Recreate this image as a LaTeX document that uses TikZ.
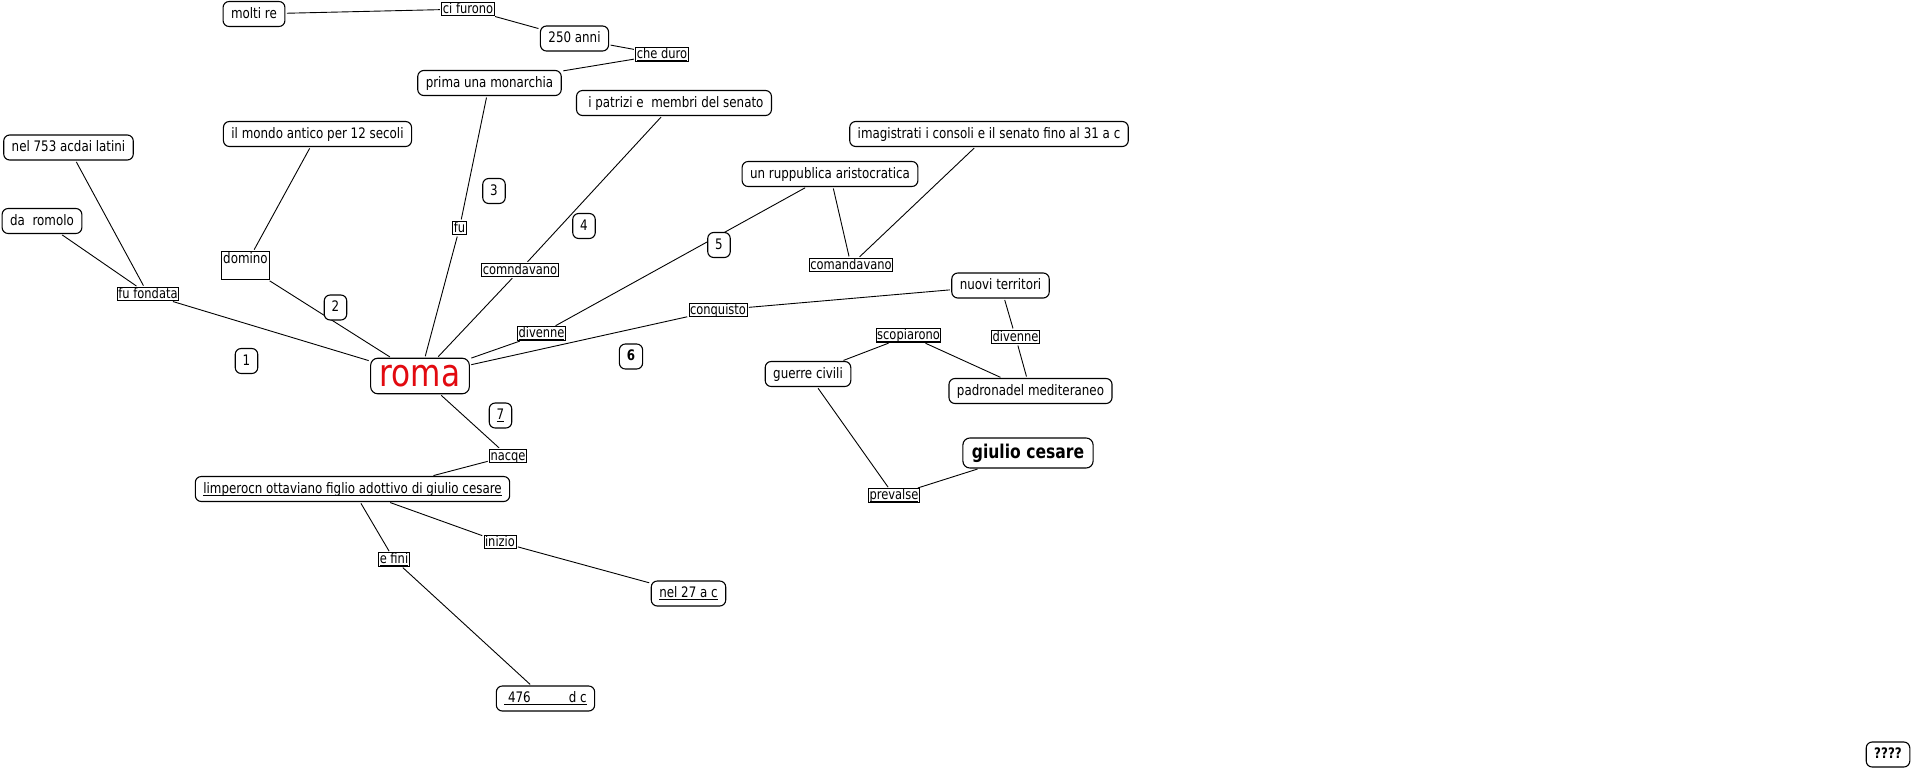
\documentclass[tikz,border=0pt]{standalone}
\usepackage{fontspec}
\setmainfont{DejaVu Sans}[FakeStretch=0.82]
\definecolor{romared}{RGB}{226,10,16}
\newsavebox{\ulbox}
\newcommand{\ulx}[1]{\sbox\ulbox{#1}\rlap{\rule[-2.2pt]{\wd\ulbox}{0.6pt}}\usebox\ulbox}
\begin{document}
\begin{tikzpicture}[x=1pt,y=-1pt,
  basefont/.style={font=\fontsize{14.5}{17}\selectfont},
  concept/.style={basefont, draw, line width=1.1pt, rounded corners=6pt, fill=white,
    inner xsep=8pt, inner ysep=5.5pt, text height=11pt, text depth=3pt},
  numbox/.style={concept, inner xsep=7.5pt},
  linkw/.style={font=\fontsize{14}{16}\selectfont, draw, line width=0.8pt, fill=white,
    inner xsep=1pt, inner ysep=0.2pt, text height=10.5pt, text depth=2.5pt},
  plainbox/.style={basefont, draw, line width=1.1pt, fill=white,
    inner xsep=1.5pt, inner ysep=0.5pt, text height=11pt, text depth=16pt},
  romastyle/.style={draw, line width=1.1pt, rounded corners=7pt, fill=white,
    font=\fontsize{38}{40}\selectfont, text=romared,
    inner xsep=9pt, inner ysep=7pt, text height=21pt, text depth=0.5pt},
  bigbold/.style={draw, line width=1.1pt, rounded corners=7pt, fill=white,
    font=\bfseries\fontsize{19}{22}\selectfont,
    inner xsep=9pt, inner ysep=6pt, text height=14pt, text depth=4pt},
  conn/.style={line width=0.9pt, shorten <=1.5pt, shorten >=1.5pt}
]
\useasboundingbox (0,0) rectangle (1912,769);

% concepts and linking phrases
\node[concept] (moltire) at (254,14) {molti re};
\node[linkw] (cifurono) at (468,9) {\ulx{ci furono}};
\node[concept] (anni) at (574.5,38.5) {250 anni\ };
\node[linkw] (cheduro) at (662,54.5) {\ulx{che duro}};
\node[concept] (prima) at (489.5,83) {prima una monarchia};
\node[concept] (patrizi) at (674,103) {\ i patrizi e\ \ membri del senato};
\node[concept] (mondo) at (317.5,134) {il mondo antico per 12 secoli};
\node[concept] (nel753) at (68.5,147.5) {nel 753 acdai latini};
\node[concept] (romolo) at (42,221) {da\ \ romolo};
\node[plainbox] (domino) at (245.5,265.5) {domino};
\node[linkw] (fondata) at (148,294) {\ulx{fu fondata}};
\node[romastyle] (roma) at (420,376) {roma};
\node[linkw] (fu) at (459.5,228) {\ulx{fu}};
\node[linkw] (comndavano) at (520,270) {\ulx{comndavano}};
\node[concept] (ruppublica) at (830,174) {un ruppublica aristocratica};
\node[concept] (magistrati) at (989,134) {imagistrati i consoli e il senato fino al 31 a c\ };
\node[linkw] (comandavano) at (851,265) {\ulx{comandavano}};
\node[linkw] (divenne) at (541.5,333.5) {\ulx{divenne}};
\node[linkw] (conquisto) at (718,310) {\ulx{conquisto}};
\node[concept] (territori) at (1000.5,285.5) {nuovi territori};
\node[linkw] (divenneb) at (1015.5,337) {\ulx{divenne}};
\node[linkw] (scopiarono) at (908.5,335.5) {\ulx{scopiarono}};
\node[concept] (guerre) at (808,374) {guerre civili};
\node[concept] (padrona) at (1030.5,391) {padronadel mediteraneo};
\node[bigbold] (giulio) at (1028,453) {giulio cesare};
\node[linkw] (prevalse) at (894,495.5) {\ulx{prevalse}};
\node[linkw] (nacqe) at (508,456) {\ulx{nacqe}\ };
\node[concept] (imperatore) at (352.5,489) {\ulx{limperocn ottaviano figlio adottivo di giulio cesare}};
\node[linkw] (inizio) at (500,542) {\ulx{inizio}};
\node[linkw] (efini) at (394,559.5) {\ulx{e fini}};
\node[concept] (nel27) at (688.5,593.5) {\ulx{nel 27 a c}};
\node[concept] (dc) at (545.5,698.5) {\ulx{\ 476\hspace{38pt}d c}};
\node[concept, font=\bfseries\fontsize{14.5}{17}\selectfont] (qqq) at (1888,754.5) {????};

% connectors
\draw[conn] (moltire) -- (cifurono);
\draw[conn] (cifurono) -- (anni);
\draw[conn] (anni) -- (cheduro);
\draw[conn] (cheduro) -- (prima);
\draw[conn] (prima) -- (fu);
\draw[conn] (fu) -- (roma);
\draw[conn] (patrizi) -- (comndavano);
\draw[conn] (comndavano) -- (roma);
\draw[conn] (mondo) -- (domino);
\draw[conn] (domino) -- (roma);
\draw[conn] (nel753) -- (fondata);
\draw[conn] (romolo) -- (fondata);
\draw[conn] (fondata) -- (roma);
\draw[conn] (roma) -- (divenne);
\draw[conn] (divenne) -- (ruppublica);
\draw[conn] (ruppublica) -- (comandavano);
\draw[conn] (magistrati) -- (comandavano);
\draw[conn] (roma) -- (conquisto);
\draw[conn] (conquisto) -- (territori);
\draw[conn] (territori) -- (divenneb);
\draw[conn] (divenneb) -- (padrona);
\draw[conn] (guerre) -- (scopiarono);
\draw[conn] (scopiarono) -- (padrona);
\draw[conn] (guerre) -- (prevalse);
\draw[conn] (prevalse) -- (giulio);
\draw[conn] (roma) -- (nacqe);
\draw[conn] (nacqe) -- (imperatore.north -| 432,0);
\draw[conn] (imperatore) -- (inizio);
\draw[conn] (inizio) -- (nel27);
\draw[conn] (imperatore) -- (efini);
\draw[conn] (efini) -- (dc);

% numbered boxes
\node[numbox] (n1) at (246.5,361) {1};
\node[numbox] (n2) at (335.5,307.5) {2};
\node[numbox] (n3) at (494,191) {3};
\node[numbox] (n4) at (584,226) {4};
\node[numbox] (n5) at (719,245) {5};
\node[numbox, font=\bfseries\fontsize{14.5}{17}\selectfont] (n6) at (631,356.5) {6};
\node[numbox] (n7) at (500.5,415.5) {\ulx{7}};
\end{tikzpicture}
\end{document}
